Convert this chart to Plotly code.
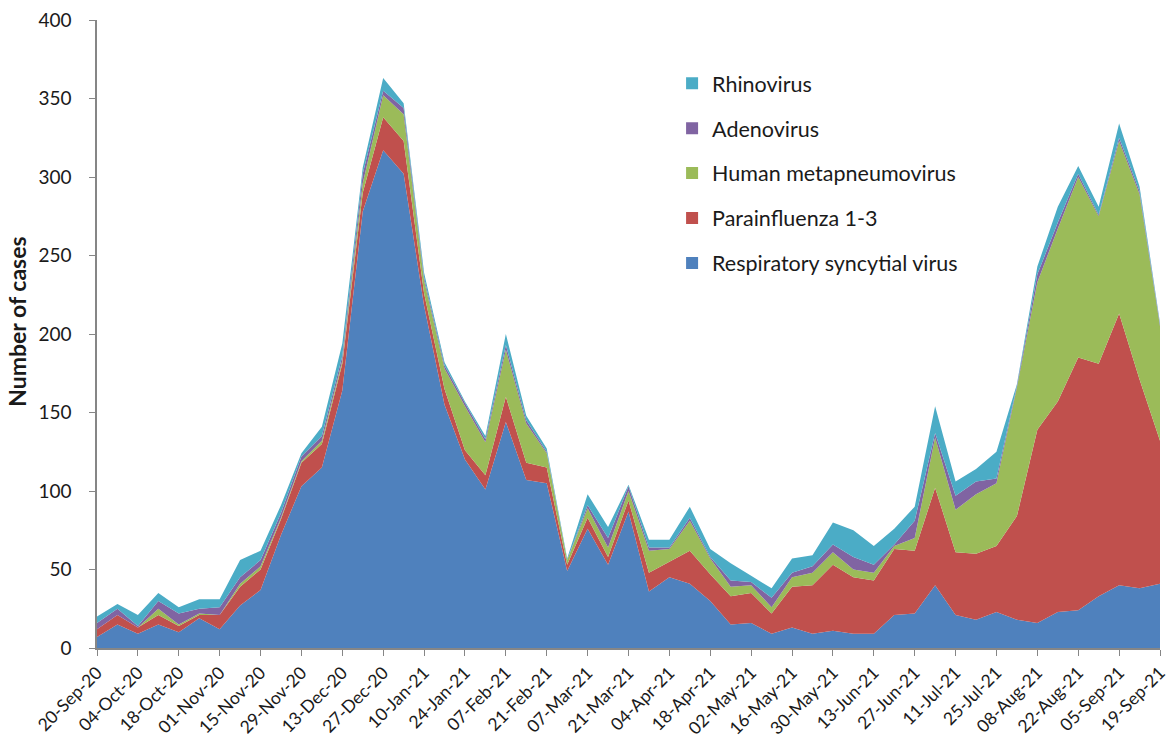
import datetime as dt

import plotly.graph_objects as go


START = dt.date(2020, 9, 20)
weeks = [START + dt.timedelta(days=7 * i) for i in range(53)]
tick_weeks = weeks[::2]
tick_labels = [d.strftime("%d-%b-%y") for d in tick_weeks]

rsv = [
    7, 15, 9, 15, 10, 19, 12, 27, 37, 72, 103, 115, 164, 278, 317, 302,
    218, 155, 120, 101, 144, 107, 105, 49, 76, 53, 87, 36, 45, 41, 30, 15,
    16, 9, 13, 9, 11, 9, 9, 21, 22, 40, 21, 18, 23, 18, 16, 23, 24, 33,
    40, 38, 41,
]
parainfluenza = [
    5, 6, 4, 6, 4, 2, 9, 12, 13, 10, 15, 15, 17, 12, 21, 21,
    8, 10, 6, 9, 16, 11, 10, 4, 7, 5, 7, 12, 10, 21, 17, 18,
    19, 13, 26, 31, 42, 36, 34, 42, 40, 62, 40, 42, 42, 66, 123, 134, 161, 148,
    173, 133, 91,
]
hmpv = [
    0, 0, 0, 4, 1, 1, 0, 2, 2, 1, 1, 2, 2, 6, 14, 17,
    8, 13, 28, 21, 30, 25, 9, 3, 6, 6, 6, 14, 8, 19, 10, 6,
    5, 4, 6, 8, 8, 5, 5, 2, 8, 32, 27, 38, 40, 82, 94, 110, 115, 94,
    110, 118, 73,
]
adenovirus = [
    4, 4, 1, 5, 7, 3, 5, 4, 4, 3, 3, 3, 3, 6, 3, 4,
    2, 2, 2, 2, 3, 2, 1, 0, 2, 6, 3, 2, 1, 2, 1, 4,
    2, 6, 3, 4, 5, 8, 5, 1, 11, 3, 9, 8, 3, 1, 5, 4, 2, 1,
    2, 2, 1,
]
rhinovirus = [
    4, 3, 7, 5, 4, 6, 5, 11, 6, 5, 2, 6, 8, 4, 8, 3,
    3, 2, 1, 2, 7, 3, 2, 1, 7, 7, 1, 5, 5, 7, 5, 11,
    4, 6, 9, 7, 14, 17, 12, 10, 9, 17, 9, 8, 17, 1, 5, 10, 5, 5,
    9, 3, 1,
]

# bottom to top of the stack
SERIES = [
    ("Respiratory syncytial virus", rsv, "#4F81BD"),
    ("Parainfluenza 1-3", parainfluenza, "#C0504D"),
    ("Human metapneumovirus", hmpv, "#9BBB59"),
    ("Adenovirus", adenovirus, "#8064A2"),
    ("Rhinovirus", rhinovirus, "#4BACC6"),
]

FONT = "Lato, 'Open Sans', sans-serif"
AXIS_GREY = "#868686"
TEXT = "#1a1a1a"

fig = go.Figure()

for rank, (name, values, color) in enumerate(SERIES):
    fig.add_trace(
        go.Scatter(
            x=weeks,
            y=values,
            name=name,
            legendgroup=name,
            stackgroup="one",
            mode="none",
            fillcolor=color,
            showlegend=False,
        )
    )
    # square legend marker, like the original chart
    fig.add_trace(
        go.Scatter(
            x=[None],
            y=[None],
            name=name,
            legendgroup=name,
            legendrank=100 - rank,
            mode="markers",
            marker=dict(symbol="square", size=12, color=color),
        )
    )

# y title sits a little above the middle of the axis in the original
fig.add_annotation(
    text="<b>Number of cases</b>",
    textangle=-90,
    xref="paper",
    yref="paper",
    x=-0.075,
    y=0.52,
    xanchor="center",
    yanchor="middle",
    showarrow=False,
    font=dict(size=23, color=TEXT),
)

fig.update_layout(
    width=1168,
    height=749,
    margin=dict(l=97, r=8, t=20, b=101),
    paper_bgcolor="white",
    plot_bgcolor="white",
    font=dict(family=FONT, size=18, color=TEXT),
    legend=dict(
        x=0.541,
        xanchor="left",
        y=0.932,
        yanchor="top",
        traceorder="grouped",
        tracegroupgap=14,
        font=dict(size=21.5, color=TEXT),
        bgcolor="rgba(0,0,0,0)",
    ),
    xaxis=dict(
        range=[weeks[0], weeks[-1]],
        tickvals=tick_weeks,
        ticktext=tick_labels,
        tickangle=-45,
        ticks="outside",
        ticklen=6,
        tickcolor=AXIS_GREY,
        showline=True,
        linecolor=AXIS_GREY,
        linewidth=1.5,
        showgrid=False,
        zeroline=False,
        automargin=False,
        ticklabeloverflow="allow",
        tickfont=dict(size=17.5),
    ),
    yaxis=dict(
        range=[0, 400],
        dtick=50,
        ticks="outside",
        ticklen=6,
        tickcolor=AXIS_GREY,
        showline=True,
        linecolor=AXIS_GREY,
        linewidth=1.5,
        showgrid=False,
        zeroline=False,
        automargin=False,
        ticklabelstandoff=14,
        tickfont=dict(size=19),
    ),
)

# drop the default page margin so the chart sits at the window's corner
fig.write_html(
    "out.html",
    config={"displayModeBar": False},
    post_script="document.body.style.margin = '0';",
)
